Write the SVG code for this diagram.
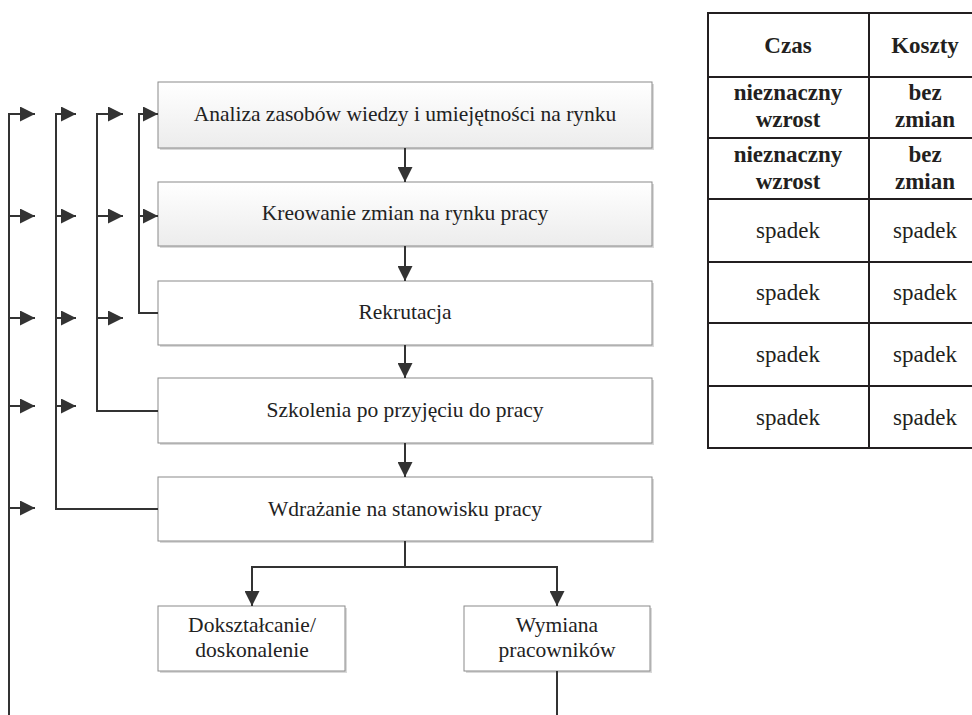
<svg xmlns="http://www.w3.org/2000/svg" width="972" height="715" viewBox="0 0 972 715">
<defs>
<linearGradient id="g" x1="0" y1="0" x2="0" y2="1"><stop offset="0" stop-color="#ffffff"/><stop offset="1" stop-color="#ececec"/></linearGradient>
<marker id="ah" viewBox="0 0 15 15" refX="15" refY="7.5" markerWidth="15" markerHeight="15" markerUnits="userSpaceOnUse" orient="auto"><path d="M0,0 L15,7.5 L0,15 Z" fill="#333"/></marker>
</defs>
<style>
.box{fill:#fff;stroke:#8a8a8a;stroke-width:1}
.grad{fill:url(#g)}
.sh{fill:#d9d9d9}
.t{font-size:21.5px;fill:#222;text-anchor:middle}
.c{fill:none;stroke:#333;stroke-width:2}
.tb{fill:none;stroke:#231f20;stroke-width:2}
.tt{font-size:23px;fill:#231f20;text-anchor:middle}
.b{font-weight:bold}
</style>
<rect width="972" height="715" fill="#fff"/>
<g font-family="'Liberation Serif', Tinos, 'DejaVu Serif', serif">
<g id="n1"><rect class="sh" x="160" y="84" width="494" height="66"/><rect class="box grad" x="158" y="82" width="494" height="66"/><text class="t" x="405" y="121">Analiza zasobów wiedzy i umiejętności na rynku</text></g>
<g id="n2"><rect class="sh" x="160" y="184" width="494" height="64"/><rect class="box grad" x="158" y="182" width="494" height="64"/><text class="t" x="405" y="220">Kreowanie zmian na rynku pracy</text></g>
<g id="n3"><rect class="sh" x="160" y="283" width="494" height="64"/><rect class="box" x="158" y="281" width="494" height="64"/><text class="t" x="405" y="319">Rekrutacja</text></g>
<g id="n4"><rect class="sh" x="160" y="380" width="494" height="65"/><rect class="box" x="158" y="378" width="494" height="65"/><text class="t" x="405" y="417">Szkolenia po przyjęciu do pracy</text></g>
<g id="n5"><rect class="sh" x="160" y="479" width="494" height="64"/><rect class="box" x="158" y="477" width="494" height="64"/><text class="t" x="405" y="516">Wdrażanie na stanowisku pracy</text></g>
<g id="n6"><rect class="sh" x="160" y="608" width="187" height="65"/><rect class="box" x="158" y="606" width="187" height="65"/><text class="t" x="252" y="632">Dokształcanie/</text><text class="t" x="252" y="657">doskonalenie</text></g>
<g id="n7"><rect class="sh" x="466" y="608" width="186" height="65"/><rect class="box" x="464" y="606" width="186" height="65"/><text class="t" x="557" y="632">Wymiana</text><text class="t" x="557" y="657">pracowników</text></g>
<g id="table">
<path class="tb" d="M985,13 H708 V448 H985 M869,13 V448 M708,77 H985 M708,138 H985 M708,199 H985 M708,262 H985 M708,323 H985 M708,386 H985"/>
<text class="tt b" x="788" y="53">Czas</text><text class="tt b" x="925" y="53">Koszty</text>
<text class="tt b" x="788" y="100">nieznaczny</text><text class="tt b" x="788" y="127">wzrost</text>
<text class="tt b" x="925" y="100">bez</text><text class="tt b" x="925" y="127">zmian</text>
<text class="tt b" x="788" y="162">nieznaczny</text><text class="tt b" x="788" y="189">wzrost</text>
<text class="tt b" x="925" y="162">bez</text><text class="tt b" x="925" y="189">zmian</text>
<text class="tt" x="788" y="238">spadek</text><text class="tt" x="925" y="238">spadek</text>
<text class="tt" x="788" y="300">spadek</text><text class="tt" x="925" y="300">spadek</text>
<text class="tt" x="788" y="362">spadek</text><text class="tt" x="925" y="362">spadek</text>
<text class="tt" x="788" y="425">spadek</text><text class="tt" x="925" y="425">spadek</text>
</g>
</g>
<g id="connectors">
<path class="c" d="M405,148 V182" marker-end="url(#ah)"/>
<path class="c" d="M405,246 V281" marker-end="url(#ah)"/>
<path class="c" d="M405,345 V378" marker-end="url(#ah)"/>
<path class="c" d="M405,443 V477" marker-end="url(#ah)"/>
<path class="c" d="M405,541 V567 H252 V606" marker-end="url(#ah)"/>
<path class="c" d="M405,567 H557 V606" marker-end="url(#ah)"/>
<path class="c" d="M557,671 V715"/>
<path class="c" d="M158,313 H139 V114 H158" marker-end="url(#ah)"/>
<path class="c" d="M139,216 H158" marker-end="url(#ah)"/>
<path class="c" d="M158,411 H97 V114 H123" marker-end="url(#ah)"/>
<path class="c" d="M97,216 H123" marker-end="url(#ah)"/>
<path class="c" d="M97,318 H123" marker-end="url(#ah)"/>
<path class="c" d="M158,509 H56 V114 H76" marker-end="url(#ah)"/>
<path class="c" d="M56,216 H76" marker-end="url(#ah)"/>
<path class="c" d="M56,318 H76" marker-end="url(#ah)"/>
<path class="c" d="M56,406 H76" marker-end="url(#ah)"/>
<path class="c" d="M9,715 V114 H35" marker-end="url(#ah)"/>
<path class="c" d="M9,216 H35" marker-end="url(#ah)"/>
<path class="c" d="M9,318 H35" marker-end="url(#ah)"/>
<path class="c" d="M9,406 H35" marker-end="url(#ah)"/>
<path class="c" d="M9,508 H35" marker-end="url(#ah)"/>
</g>
</svg>
